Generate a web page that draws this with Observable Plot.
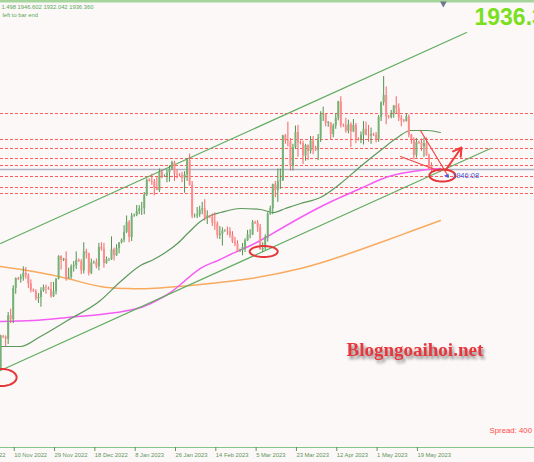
<!DOCTYPE html>
<html><head><meta charset="utf-8">
<script src="https://cdn.jsdelivr.net/npm/d3@7"></script>
<script src="https://cdn.jsdelivr.net/npm/@observablehq/plot@0.6"></script>
<style>html,body{margin:0;padding:0;overflow:hidden;background:#fcf8f7}</style>
</head><body><div id="chart"></div>
<script>
// Daily XAUUSD bars, 3 Nov 2022 -> 26 May 2023 (index = bar number)
const opens = [
1634,1629,1680,1679,1676,1712,1706,1754,1769,1768,
1771,1777,1774,1761,1751,1749,1738,1740,1750,1755,
1754,1752,1741,1749,1768,1803,1797,1799,1769,1771,
1787,1789,1797,1795,1781,1810,1807,1777,1793,1794,
1787,1817,1814,1792,1798,1798,1813,1804,1815,1824,
1828,1840,1855,1832,1865,1866,1872,1876,1876,1897,
1920,1918,1917,1908,1904,1932,1926,1926,1931,1937,
1947,1929,1928,1927,1923,1928,1950,1912,1865,1865,
1867,1874,1876,1861,1865,1863,1854,1853,1835,1837,
1842,1842,1841,1835,1825,1822,1811,1812,1817,1827,
1836,1836,1855,1854,1847,1813,1815,1831,1868,1876,
1913,1904,1918,1919,1988,1980,1979,1941,1970,1993,
1977,1976,1957,1973,1964,1980,1969,1966,1984,2020,
2021,2007,2008,1990,2003,2015,2040,2004,2003,1995,
2005,1994,2004,1983,1982,1989,1998,1989,1988,1990,
1989,1982,2016,2039,2050,2017,2016,2021,2034,2030,
2015,2011,2010,2017,1989,1982,1958,1978,1977,1971,
1976,1957,1941.498];
const highs = [
1642,1682,1682,1681,1717,1722,1758,1770,1771,1775,
1787,1786,1776,1767,1753,1752,1746,1755,1759,1759,
1756,1763,1763,1769,1804,1804,1800,1810,1785,1790,
1795,1810,1799,1798,1824,1814,1808,1799,1796,1799,
1823,1824,1823,1802,1800,1833,1816,1821,1824,1830,
1850,1865,1858,1869,1868,1881,1881,1886,1901,1922,
1922,1929,1921,1925,1937,1935,1928,1935,1942,1949,
1949,1936,1930,1932,1933,1953,1960,1918,1868,1878,
1880,1886,1890,1873,1866,1868,1870,1856,1849,1847,
1844,1848,1847,1841,1832,1827,1814,1823,1830,1843,
1844,1858,1857,1858,1852,1824,1836,1870,1880,1914,
1918,1937,1937,1989,1990,2009,1984,1975,2003,2004,
1980,1980,1975,1974,1987,1987,1972,1990,2025,2032,
2022,2010,2008,2006,2022,2041,2048,2006,2015,2012,
2008,2013,2007,1985,1994,2010,2009,2004,2000,1992,
1993,2019,2040,2079,2063,2019,2027,2034,2048,2037,
2019,2013,2022,2020,1990,1985,1984,1980,1983,1985,
1985,1960,1946.602];
const lows = [
1616,1628,1677,1664,1668,1700,1700,1745,1766,1762,
1765,1768,1754,1747,1748,1735,1731,1725,1748,1745,
1751,1739,1740,1744,1767,1782,1795,1765,1768,1768,
1779,1783,1794,1775,1776,1799,1773,1775,1791,1784,
1781,1811,1785,1791,1795,1797,1796,1803,1807,1822,
1824,1838,1824,1826,1863,1864,1867,1866,1867,1895,
1917,1912,1896,1904,1901,1922,1924,1916,1917,1935,
1918,1922,1925,1916,1900,1918,1911,1861,1862,1861,
1863,1867,1857,1852,1861,1849,1843,1830,1829,1819,
1840,1835,1831,1823,1818,1809,1809,1804,1809,1826,
1830,1835,1852,1840,1813,1809,1812,1825,1866,1867,
1893,1886,1906,1918,1975,1971,1934,1934,1967,1955,
1974,1944,1949,1950,1960,1959,1964,1950,1978,2010,
2002,2001,1981,1985,1998,2011,2000,2001,1992,1991,
1970,1993,1976,1980,1976,1974,1988,1978,1975,1987,
1977,1978,2010,2034,2005,2014,2014,2015,2022,2010,
2002,2008,2009,1985,1975,1951,1954,1975,1964,1955,
1957,1936,1932.042];
const closes = [
1629,1681,1679,1676,1712,1706,1754,1769,1768,1771,
1777,1774,1761,1751,1749,1738,1740,1750,1755,1754,
1752,1741,1749,1768,1803,1797,1799,1769,1771,1787,
1789,1797,1795,1781,1810,1807,1777,1793,1794,1787,
1817,1814,1792,1798,1798,1813,1804,1815,1824,1828,
1840,1855,1832,1865,1866,1872,1876,1876,1897,1920,
1918,1917,1908,1904,1932,1926,1926,1931,1937,1947,
1929,1928,1927,1923,1928,1950,1912,1865,1865,1867,
1874,1876,1861,1865,1863,1854,1853,1835,1837,1842,
1842,1841,1835,1825,1822,1811,1812,1817,1827,1836,
1836,1855,1854,1847,1813,1815,1831,1868,1876,1913,
1904,1918,1919,1988,1980,1979,1941,1970,1993,1977,
1976,1957,1973,1964,1980,1969,1966,1984,2020,2021,
2007,2008,1990,2003,2015,2040,2004,2003,1995,2005,
1994,2004,1983,1982,1989,1998,1989,1988,1990,1989,
1982,2016,2039,2050,2017,2016,2021,2034,2030,2015,
2011,2010,2017,1989,1982,1958,1978,1977,1971,1976,
1957,1941.498,1936.36];

// time axis
const tickIdx = [-10, 6, 22, 38, 54, 70, 86, 102, 118, 134, 150, 166];
const tickLabels = ["23 Oct 2022","10 Nov 2022","29 Nov 2022","18 Dec 2022","8 Jan 2023","26 Jan 2023","14 Feb 2023","5 Mar 2023","23 Mar 2023","12 Apr 2023","1 May 2023","19 May 2023"];

// moving averages
const maGreenIdx = [0.95, 8.9, 16.8, 27.5, 40.6, 48.6, 56.5, 61.7, 66.4, 71.2, 75.6, 80.3, 84.3, 88.3, 96.2, 104.1, 109.3, 114.0, 120.0, 127.9, 135.9, 143.8, 151.7, 158.5, 163.6, 170.4, 175.5];
const maGreenVal = [1664.8, 1664.8, 1680.2, 1704.7, 1735.4, 1764.5, 1789.1, 1798.3, 1809.0, 1822.8, 1839.7, 1856.6, 1865.8, 1870.4, 1876.5, 1875.0, 1870.4, 1876.5, 1884.2, 1893.4, 1914.9, 1941.0, 1965.5, 1985.4, 1996.2, 1996.2, 1993.1];
const maPinkIdx = [0.95, 14.0, 27.5, 40.6, 53.7, 60.5, 67.2, 72.4, 80.3, 86.3, 92.2, 100.2, 106.9, 120.0, 133.1, 143.8, 151.7, 159.7, 170.4, 175.5];
const maPinkVal = [1703.2, 1704.7, 1709.3, 1713.9, 1721.6, 1730.8, 1744.6, 1759.9, 1784.5, 1795.2, 1806.0, 1819.8, 1833.6, 1862.7, 1888.8, 1907.2, 1921.0, 1930.2, 1936.3, 1937.9];
const maOrangeIdx = [0.95, 14.0, 27.5, 40.6, 50.6, 60.5, 80.3, 100.2, 120.0, 135.9, 151.7, 163.6, 175.5];
const maOrangeVal = [1787.5, 1779.9, 1769.1, 1756.9, 1753.8, 1753.8, 1759.9, 1769.1, 1784.5, 1802.9, 1824.4, 1841.2, 1858.1];

// drawn objects
const channelUpper = [[0.95, 1822.8], [185.9, 2146.5]];
const channelLower = [[0.95, 1628.0], [195.4, 1968.6]];
const levels = [2022.2, 1982.4, 1968.6, 1953.2, 1942.5, 1925.6, 1908.7, 1899.5];
const wedgeUpper = [[167.6, 1996.2], [178.7, 1925.6]];
const wedgeLower = [[159.7, 1956.3], [175.5, 1933.3]];
const arrowPts = [{x1: 177.5, y1: 1934.8, x2: 183.9, y2: 1970.1}];
const circleCenters = [[1.4, 1617.3], [105.4, 1810.5], [176.3, 1927.1]];

const bars = opens.map((o, k) => ({i: k, open: o, high: highs[k], low: lows[k], close: closes[k]}));
const last = bars[bars.length - 1];

const W = 534, H = 462, MB = 15;
const xDomain = [0.9524, 212.86];
const yDomain = [1509.9, 2195.6];
const barPx = W / (xDomain[1] - xDomain[0]);
const pricePerPx = (yDomain[1] - yDomain[0]) / (H - MB);
const ellSize = [[15, 8.5], [14, 5.5], [13, 6]];
const ellPts = [];
circleCenters.forEach(([ci, cp], k) => {
  const [rx, ry] = ellSize[k];
  for (let t = 0; t <= 48; t++) {
    const a = t / 48 * 2 * Math.PI;
    ellPts.push({k, x: ci + rx / barPx * Math.cos(a), y: cp + ry * pricePerPx * Math.sin(a)});
  }
});

const up = d => d.close >= d.open;
const font = "'Liberation Sans', Arial, sans-serif";
const serif = "'Liberation Serif', 'Times New Roman', serif";
const topText = `${last.open.toFixed(3).slice(3)} ${last.high.toFixed(3)} ${last.low.toFixed(3)} ${last.close.toFixed(3)}`;
const pair = (xs, ys) => xs.map((d, k) => [d, ys[k]]);
const label = (s, dx, dy, o) => Plot.text([s], {frameAnchor: "top-left", dx, dy, text: d => d, textAnchor: "start", lineAnchor: "bottom", fontFamily: font, ...o});

const chart = Plot.plot({
  width: W, height: H, marginTop: 0, marginBottom: MB, marginLeft: 0, marginRight: 0,
  x: {domain: xDomain, axis: null},
  y: {domain: yDomain, axis: null},
  style: {background: "#fcf8f7", fontFamily: font, overflow: "hidden"},
  marks: [
    Plot.ruleY(levels, {stroke: "#ff5a5a", strokeDasharray: "3,2", strokeWidth: 1}),
    Plot.ruleY([last.close], {stroke: "#adb2ca", strokeWidth: 1.5}),
    Plot.line(pair(maOrangeIdx, maOrangeVal), {stroke: "#f8ab5e", strokeWidth: 1.5, curve: "natural"}),
    Plot.line(pair(maPinkIdx, maPinkVal), {stroke: "#f45cf4", strokeWidth: 1.5, curve: "natural"}),
    Plot.line(pair(maGreenIdx, maGreenVal), {stroke: "#5c9a5c", strokeWidth: 1.2, curve: "monotone-x"}),
    Plot.line(channelUpper, {stroke: "#62ad62", strokeWidth: 1.2}),
    Plot.line(channelLower, {stroke: "#62ad62", strokeWidth: 1.2}),
    Plot.ruleX(bars, {x: "i", y1: "low", y2: "high", stroke: d => up(d) ? "#4f934f" : "#f26666", strokeWidth: 1}),
    Plot.ruleX(bars, {x: "i", y1: "open", y2: "close", stroke: d => up(d) ? "#76b276" : "#ff8c8c", strokeWidth: 2}),
    Plot.line(wedgeUpper, {stroke: "#f04848", strokeWidth: 1.2}),
    Plot.line(wedgeLower, {stroke: "#f04848", strokeWidth: 1.2}),
    Plot.arrow(arrowPts, {x1: "x1", y1: "y1", x2: "x2", y2: "y2", stroke: "#ee3b3b", strokeWidth: 2, headLength: 7}),
    Plot.line(ellPts, {x: "x", y: "y", z: "k", stroke: "#e5363a", strokeWidth: 2}),
    Plot.ruleY([yDomain[0]], {stroke: "#86c386", strokeWidth: 1}),
    Plot.ruleY([yDomain[1]], {stroke: "#a5d59d", strokeWidth: 4}),
    Plot.axisX(tickIdx, {anchor: "bottom", tickSize: 4, tickPadding: 1.5, textAnchor: "start", dx: 1,
      tickFormat: d => tickLabels[tickIdx.indexOf(d)], fontSize: 5.8, color: "#5e955e", fontFamily: font}),
    Plot.dot([176.7], {x: d => d, frameAnchor: "top", dy: 3, symbol: "triangle", rotate: 180, r: 2.5, fill: "#6d7888"}),
    label(topText, 1, 8.5, {fontSize: 5.8, fill: "#5aa85a"}),
    label("left to bar end", 2, 16.5, {fontSize: 5.8, fill: "#5aa85a"}),
    label(last.close.toFixed(2), 474, 24, {fontSize: 23, fontWeight: "bold", fill: "#7ae01e"}),
    label("◄ 1946:08", 442, 177, {fontSize: 7.5, fill: "#4460e0"}),
    label("Blogngoaihoi.net", 346, 355, {fontSize: 19, fontWeight: "bold", fill: "#e8363c", fontFamily: serif}),
    label("Spread: 400", 489, 432.5, {fontSize: 7.8, fill: "#ff4a4a"})
  ]
});
chart.querySelectorAll("text").forEach(t => {
  if (t.textContent === "Blogngoaihoi.net") t.style.filter = "drop-shadow(2px 3px 1.5px rgba(0,0,0,0.45))";
});
document.getElementById("chart").appendChild(chart);
</script>
</body></html>
